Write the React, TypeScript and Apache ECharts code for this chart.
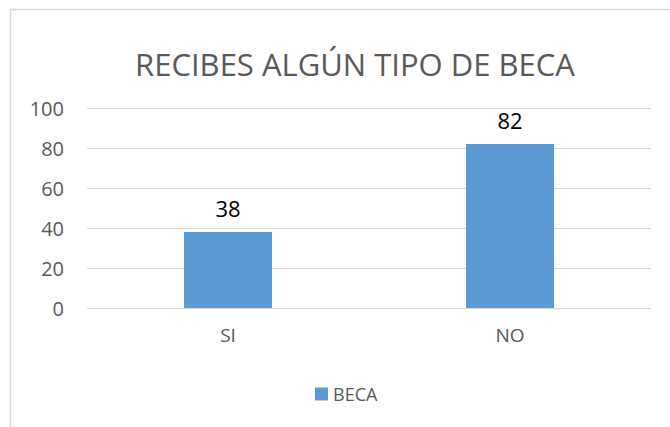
import React, { useEffect, useRef } from "react";
import * as echarts from "echarts";

const categories = ["SI", "NO"];
const becaValues = [38, 82];
const yTicks = [0, 20, 40, 60, 80, 100];
const seriesName = "BECA";
const titleText = "RECIBES ALGÚN TIPO DE BECA";

export default function App() {
  const ref = useRef<HTMLDivElement>(null);
  useEffect(() => {
    const chart = echarts.init(ref.current!, null, { renderer: "svg" });
    chart.setOption({
      animation: false,
      backgroundColor: "#ffffff",
      graphic: [
        {
          type: "rect",
          shape: { x: 10.5, y: 9.5, width: 700, height: 500 },
          style: { fill: "none", stroke: "#d9d9d9", lineWidth: 1.5 },
          silent: true,
          z: -1,
        },
      ],
      title: {
        text: titleText,
        left: 350,
        textAlign: "center",
        top: 43,
        textStyle: {
          fontFamily: "Open Sans",
          fontWeight: "normal",
          fontSize: 31,
          color: "#595959",
        },
      },
      legend: {
        top: 380,
        left: 310,
        itemWidth: 13,
        itemHeight: 13,
        icon: "rect",
        textStyle: { fontFamily: "Open Sans", fontSize: 18, color: "#595959" },
        data: [seriesName],
      },
      grid: { left: 87, right: 19, top: 108, bottom: 119, containLabel: false },
      xAxis: {
        type: "category",
        data: categories,
        axisLine: { show: false },
        axisTick: { show: false },
        axisLabel: {
          fontFamily: "Open Sans",
          fontSize: 19,
          color: "#595959",
          margin: 17,
        },
      },
      yAxis: {
        type: "value",
        min: yTicks[0],
        max: yTicks[yTicks.length - 1],
        interval: 20,
        axisLine: { show: false },
        axisTick: { show: false },
        splitLine: { lineStyle: { color: "#d9d9d9", width: 1 } },
        axisLabel: {
          fontFamily: "Open Sans",
          fontSize: 20,
          color: "#595959",
          margin: 23,
        },
      },
      series: [
        {
          name: seriesName,
          type: "bar",
          data: becaValues,
          barWidth: "31.2%",
          itemStyle: { color: "#5b9bd5" },
          label: {
            show: true,
            position: "top",
            distance: 13,
            fontFamily: "Open Sans",
            fontSize: 22,
            color: "#000000",
          },
        },
      ],
    });
    return () => chart.dispose();
  }, []);
  return (
    <div
      ref={ref}
      style={{ position: "absolute", left: 0, top: 0, width: 670, height: 427 }}
    />
  );
}
